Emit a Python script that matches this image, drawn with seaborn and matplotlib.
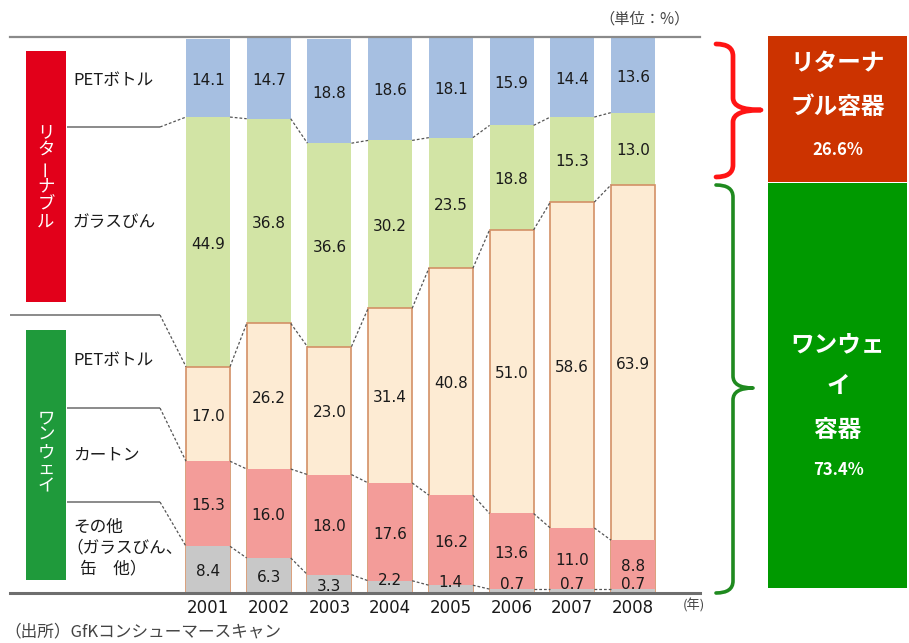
import matplotlib
matplotlib.use("Agg")
import matplotlib.pyplot as plt
from matplotlib.patches import Rectangle, PathPatch
from matplotlib.path import Path
import numpy as np
import pandas as pd
import seaborn as sns

# ---- data (share of containers, %) ----
years = ["2001", "2002", "2003", "2004", "2005", "2006", "2007", "2008"]
oneway_other = [8.4, 6.3, 3.3, 2.2, 1.4, 0.7, 0.7, 0.7]
oneway_carton = [15.3, 16.0, 18.0, 17.6, 16.2, 13.6, 11.0, 8.8]
oneway_pet = [17.0, 26.2, 23.0, 31.4, 40.8, 51.0, 58.6, 63.9]
returnable_glass = [44.9, 36.8, 36.6, 30.2, 23.5, 18.8, 15.3, 13.0]
returnable_pet = [14.1, 14.7, 18.8, 18.6, 18.1, 15.9, 14.4, 13.6]

series_keys = ["oneway_other", "oneway_carton", "oneway_pet",
               "returnable_glass", "returnable_pet"]
series_values = [oneway_other, oneway_carton, oneway_pet,
                 returnable_glass, returnable_pet]
series_colors = ["#c8c8c8", "#f39c99", "#fdebd3", "#d2e4a5", "#a6bfe1"]
series_edges = [None, None, "#d39066", None, None]

left_labels = ["その他", "カートン", "PETボトル", "ガラスびん", "PETボトル"]

# long table with cumulative tops for stacking
rows = []
for key, vals in zip(series_keys, series_values):
    for y, v in zip(years, vals):
        rows.append({"year": y, "series": key, "value": v})
df = pd.DataFrame(rows)
df["series"] = pd.Categorical(df["series"], categories=series_keys, ordered=True)
df = df.sort_values(["year", "series"])
df["top"] = df.groupby("year")["value"].cumsum()
df["bottom"] = df["top"] - df["value"]

# ---- figure ----
W, H = 909, 643
fig = plt.figure(figsize=(W / 100, H / 100), dpi=100)
fig.patch.set_facecolor("white")
plt.rcParams["font.family"] = ["Noto Sans CJK JP", "DejaVu Sans"]

# layout in pixels
x_first, x_last = 208.0, 633.0
ppu = (x_last - x_first) / (len(years) - 1)
ax_left_px, ax_right_px = 10.0, 700.0
ax_top_px, ax_bot_px = 37.0, 593.0
bar_w = 0.725

ov = fig.add_axes([0, 0, 1, 1], zorder=-1)
ov.set_xlim(0, W)
ov.set_ylim(H, 0)
ov.axis("off")

ax = fig.add_axes([ax_left_px / W, (H - ax_bot_px) / H,
                   (ax_right_px - ax_left_px) / W, (ax_bot_px - ax_top_px) / H])
ax.set_facecolor("none")

# stacked bars: draw cumulative tops from the highest layer down
for key, col, ec in reversed(list(zip(series_keys, series_colors, series_edges))):
    sub = df[df["series"] == key]
    sns.barplot(data=sub, x="year", y="top", order=years, color=col,
                saturation=1, width=bar_w, ax=ax, errorbar=None,
                edgecolor=ec if ec else col, linewidth=1.2 if ec else 0)

ax.set_xlim((ax_left_px - x_first) / ppu, (ax_right_px - x_first) / ppu)
ax.set_ylim(0, 100)
ax.set_xlabel("")
ax.set_ylabel("")
ax.set_yticks([])
ax.tick_params(axis="x", length=0, pad=4, labelsize=12, labelcolor="#1a1a1a")
for lab in ax.get_xticklabels():
    lab.set_fontfamily("DejaVu Sans")
for s in ["left", "right"]:
    ax.spines[s].set_visible(False)
ax.spines["top"].set_color("#8a8a8a")
ax.spines["top"].set_linewidth(1.6)
ax.spines["bottom"].set_color("#6e6e6e")
ax.spines["bottom"].set_linewidth(2.2)


def dx(px):
    return (px - x_first) / ppu


def dy(py):
    return (ax_bot_px - py) / (ax_bot_px - ax_top_px) * 100


# value labels
for _, r in df.iterrows():
    i = years.index(r["year"])
    yc = (r["top"] + r["bottom"]) / 2
    if r["value"] < 3:
        yc = r["value"] / 2 + 1.5
    ax.text(i, yc - 0.4, f"{r['value']:.1f}", ha="center", va="center",
            fontsize=11, color="#1a1a1a", family="DejaVu Sans", zorder=5)

# dashed connectors between neighbouring bars at each stack boundary
tops = df.pivot(index="year", columns="series", values="top").loc[years]
for key in series_keys[:-1]:
    cum = tops[key].values
    for i in range(len(years) - 1):
        ax.plot([i + bar_w / 2, i + 1 - bar_w / 2], [cum[i], cum[i + 1]],
                ls=(0, (2.2, 1.6)), color="#555555", lw=0.9, zorder=4,
                clip_on=False)

# left-side category labels with leader lines into the first bar
first = tops.iloc[0]
leaders = [  # (pixel y of horizontal part, start x px, boundary key)
    (127, 67, "returnable_glass"),
    (315, 10, "oneway_pet"),
    (408, 67, "oneway_carton"),
    (502, 67, "oneway_other"),
]
for py, x0, key in leaders:
    ax.plot([dx(x0), dx(160)], [dy(py), dy(py)], color="#8a8a8a", lw=1.4,
            clip_on=False, solid_capstyle="butt")
    ax.plot([dx(160), -bar_w / 2], [dy(py), first[key]], color="#555555",
            lw=0.9, ls=(0, (2.2, 1.6)), clip_on=False)

lab_x = dx(73)
lab_kw = dict(ha="left", va="center", fontsize=12, color="#1a1a1a")
for text, py in [(left_labels[4], 80), (left_labels[3], 223),
                 (left_labels[2], 360), (left_labels[1], 455)]:
    ax.text(lab_x, dy(py), text, **lab_kw)
ax.text(lab_x, dy(527), left_labels[0], **lab_kw)
ax.text(dx(66), dy(548), "（ガラスびん、", **lab_kw)
ax.text(dx(80), dy(569), "缶　他）", **lab_kw)

# group boxes with vertical captions
for (top_px, bot_px, col, chars, c0, pitch) in [
        (51, 302, "#e2001a", "リターナブル", 132, 18.0),
        (330, 580, "#1f9a3b", "ワンウェイ", 418, 17.0)]:
    ax.add_patch(Rectangle((dx(26), dy(bot_px)), dx(66) - dx(26),
                           dy(top_px) - dy(bot_px), color=col, lw=0,
                           clip_on=False))
    for k, ch in enumerate(chars):
        ax.text(dx(46), dy(c0 + k * pitch), ch, ha="center", va="center",
                fontsize=12.5, color="white",
                rotation=90 if ch == "ー" else 0, rotation_mode="anchor")

ax.text(dx(683), dy(606), "(年)", ha="left", va="center", fontsize=9.5,
        color="#444444", clip_on=False)

# ---- right-hand summary panel (2008 shares) ----
ret_share = returnable_pet[-1] + returnable_glass[-1]
one_share = oneway_pet[-1] + oneway_carton[-1] + oneway_other[-1]


def brace(x_end, x_line, x_tip, top, mid, bot, r, color, lw):
    verts = [(x_end, top), (x_line, top), (x_line, top + r),
             (x_line, mid - r), (x_line, mid), (x_tip, mid),
             (x_line, mid), (x_line, mid + r),
             (x_line, bot - r), (x_line, bot), (x_end, bot)]
    codes = [Path.MOVETO, Path.CURVE3, Path.CURVE3,
             Path.LINETO, Path.CURVE3, Path.CURVE3,
             Path.CURVE3, Path.CURVE3,
             Path.LINETO, Path.CURVE3, Path.CURVE3]
    ov.add_patch(PathPatch(Path(verts, codes), fill=False, edgecolor=color,
                           lw=lw, capstyle="round", joinstyle="round"))


brace(716, 733, 761, 44, 110, 177, 12, "#ff1414", 3.4)
brace(716, 733, 753, 185, 388, 593, 12, "#1f8a1f", 2.6)

ov.add_patch(Rectangle((768, 36), 139, 146, color="#cc3300", lw=0))
ov.add_patch(Rectangle((768, 183), 139, 405, color="#009900", lw=0))

for txt, py, fs in [("リターナ", 63, 17), ("ブル容器", 107, 17),
                    (f"{ret_share:.1f}%", 150, 12),
                    ("ワンウェ", 345, 17), ("イ", 386, 17), ("容器", 430, 17),
                    (f"{one_share:.1f}%", 470, 12)]:
    ov.text(838, py, txt, ha="center", va="center", fontsize=fs,
            fontweight="bold", color="white")

ov.text(690, 19, "（単位：%）", ha="right", va="center", fontsize=11,
        color="#444444")
ov.text(4, 632, "（出所）GfKコンシューマースキャン", ha="left", va="center",
        fontsize=12, color="#444444")

fig.savefig("out.png", dpi=100, facecolor="white")
